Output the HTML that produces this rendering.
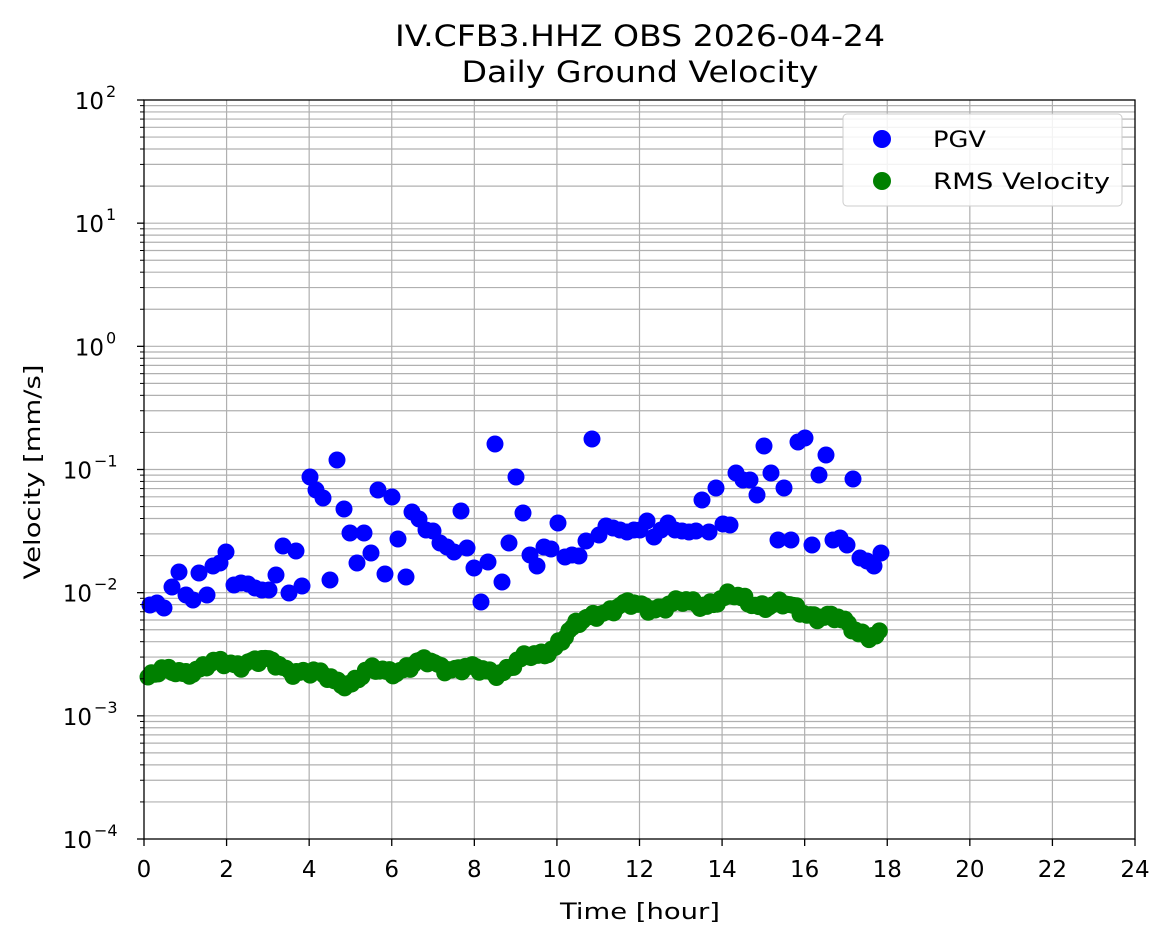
<!DOCTYPE html>
<html><head><meta charset="utf-8"><style>
body{margin:0;background:#fff}
svg{display:block;font-family:"DejaVu Sans","Liberation Sans",sans-serif}
</style></head><body>
<svg id="s" width="1173" height="946" xmlns="http://www.w3.org/2000/svg">
<rect width="1173" height="946" fill="#fff"/>
<g id="grid"></g>
<g id="rms"></g>
<g id="pgv"></g>
<rect x="144" y="100" width="991" height="739" fill="none" stroke="#000" stroke-width="1.3"/>
<g id="ticks"></g>
<text x="640" y="46" font-size="29" text-anchor="middle" textLength="490" lengthAdjust="spacingAndGlyphs">IV.CFB3.HHZ OBS 2026-04-24</text>
<text x="640" y="82" font-size="29" text-anchor="middle" textLength="357" lengthAdjust="spacingAndGlyphs">Daily Ground Velocity</text>
<text x="640" y="919" font-size="22" text-anchor="middle" textLength="160" lengthAdjust="spacingAndGlyphs">Time [hour]</text>
<text transform="translate(40,472) rotate(-90)" font-size="22" text-anchor="middle" textLength="215" lengthAdjust="spacingAndGlyphs">Velocity [mm/s]</text>
<g>
<rect x="843" y="114" width="279" height="92" rx="4" fill="#fff" fill-opacity="0.85" stroke="#ccc"/>
<circle cx="882" cy="139" r="9" fill="#0000ff"/>
<text x="933" y="147" font-size="22" textLength="53" lengthAdjust="spacingAndGlyphs">PGV</text>
<circle cx="882" cy="181" r="9" fill="#008000"/>
<text x="933" y="189" font-size="22" textLength="177" lengthAdjust="spacingAndGlyphs">RMS Velocity</text>
</g>
</svg>
<script>
var NS="http://www.w3.org/2000/svg";
function el(p,t,a,txt){var e=document.createElementNS(NS,t);for(var k in a)e.setAttribute(k,a[k]);if(txt)e.textContent=txt;document.getElementById(p).appendChild(e);return e;}
var x0=144,x1=1135,yT=100,yB=839,dec=(yB-yT)/6;
function Y(l){return yB-(l+4)*dec;}
for(var d=-4;d<2;d++){for(var m=2;m<=9;m++){var y=Y(d+Math.log10(m));el("grid","line",{x1:x0,x2:x1,y1:y,y2:y,stroke:"#b0b0b0","stroke-width":1.2});}}
for(var d=-3;d<2;d++){var y=Y(d);el("grid","line",{x1:x0,x2:x1,y1:y,y2:y,stroke:"#b0b0b0","stroke-width":1.2});}
for(var h=2;h<24;h+=2){var x=x0+h*(x1-x0)/24;el("grid","line",{x1:x,x2:x,y1:yT,y2:yB,stroke:"#b0b0b0","stroke-width":1.2});}
for(var h=0;h<=24;h+=2){var x=x0+h*(x1-x0)/24;el("ticks","line",{x1:x,x2:x,y1:yB,y2:yB+7,stroke:"#000","stroke-width":1.3});el("ticks","text",{x:x,y:yB+38,"font-size":23,"text-anchor":"middle"},String(h));}
for(var d=-4;d<=2;d++){var y=Y(d);el("ticks","line",{x1:x0-7,x2:x0,y1:y,y2:y,stroke:"#000","stroke-width":1.3});
var neg=d<0;
el("ticks","text",{x:neg?92:104,y:y+9,"font-size":23,"text-anchor":"end"},"10");
el("ticks","text",{x:neg?94:106,y:y-3,"font-size":16,"text-anchor":"start"},neg?"\u2212"+(-d):String(d));}
for(var d=-4;d<2;d++){for(var m=2;m<=9;m++){var y=Y(d+Math.log10(m));el("ticks","line",{x1:x0-4,x2:x0,y1:y,y2:y,stroke:"#000"});}}
var k=[[148,676],[200,668],[250,660],[300,670],[320,677],[350,682],[370,673],[400,668],[430,663],[460,668],[480,672],[500,670],[520,662],[540,655],[560,640],[580,625],[600,610],[620,607],[650,606],[700,603],[730,598],[760,603],[790,608],[810,612],[840,622],[870,634],[881,636]];
function interp(x){for(var i=0;i<k.length-1;i++){if(x<=k[i+1][0]){var f=(x-k[i][0])/(k[i+1][0]-k[i][0]);return k[i][1]+f*(k[i+1][1]-k[i][1]);}}return k[k.length-1][1];}
for(var x=148;x<=881;x+=3.45){var j=Math.sin(x*1.7)*4+Math.sin(x*0.37)*2+Math.sin(x*2.9)*2;el("rms","circle",{cx:x,cy:interp(x)+j,r:8.5,fill:"#008000"});}
var p=[[150,605],[157,603],[164,608],[172,587],[179,572],[186,595],[193,600],[199,573],[207,595],[213,566],[220,563],[226,552],[234,585],[241,583],[248,584],[255,588],[262,590],[269,590],[276,575],[283,546],[289,593],[296,551],[302,586],[310,477],[316,490],[323,498],[330,580],[337,460],[344,509],[350,533],[357,563],[364,533],[371,553],[378,490],[385,574],[392,497],[398,539],[406,577],[412,512],[419,519],[426,530],[433,531],[440,543],[447,547],[454,552],[461,511],[467,548],[474,568],[481,602],[488,562],[495,444],[502,582],[509,543],[516,477],[523,513],[530,555],[537,566],[544,547],[551,549],[558,523],[565,557],[572,555],[579,556],[586,541],[592,439],[599,535],[606,526],[613,528],[620,530],[627,532],[634,530],[640,530],[647,521],[654,537],[661,530],[668,523],[675,530],[682,531],[689,532],[696,531],[702,500],[709,532],[716,488],[723,524],[730,525],[736,473],[743,480],[750,480],[757,495],[764,446],[771,473],[778,540],[784,488],[791,540],[798,442],[805,438],[812,545],[819,475],[826,455],[833,540],[840,538],[847,545],[853,479],[860,558],[867,561],[874,566],[881,553]];
p.forEach(function(q){el("pgv","circle",{cx:q[0],cy:q[1],r:8.5,fill:"#0000ff"});});
</script>
</body></html>
